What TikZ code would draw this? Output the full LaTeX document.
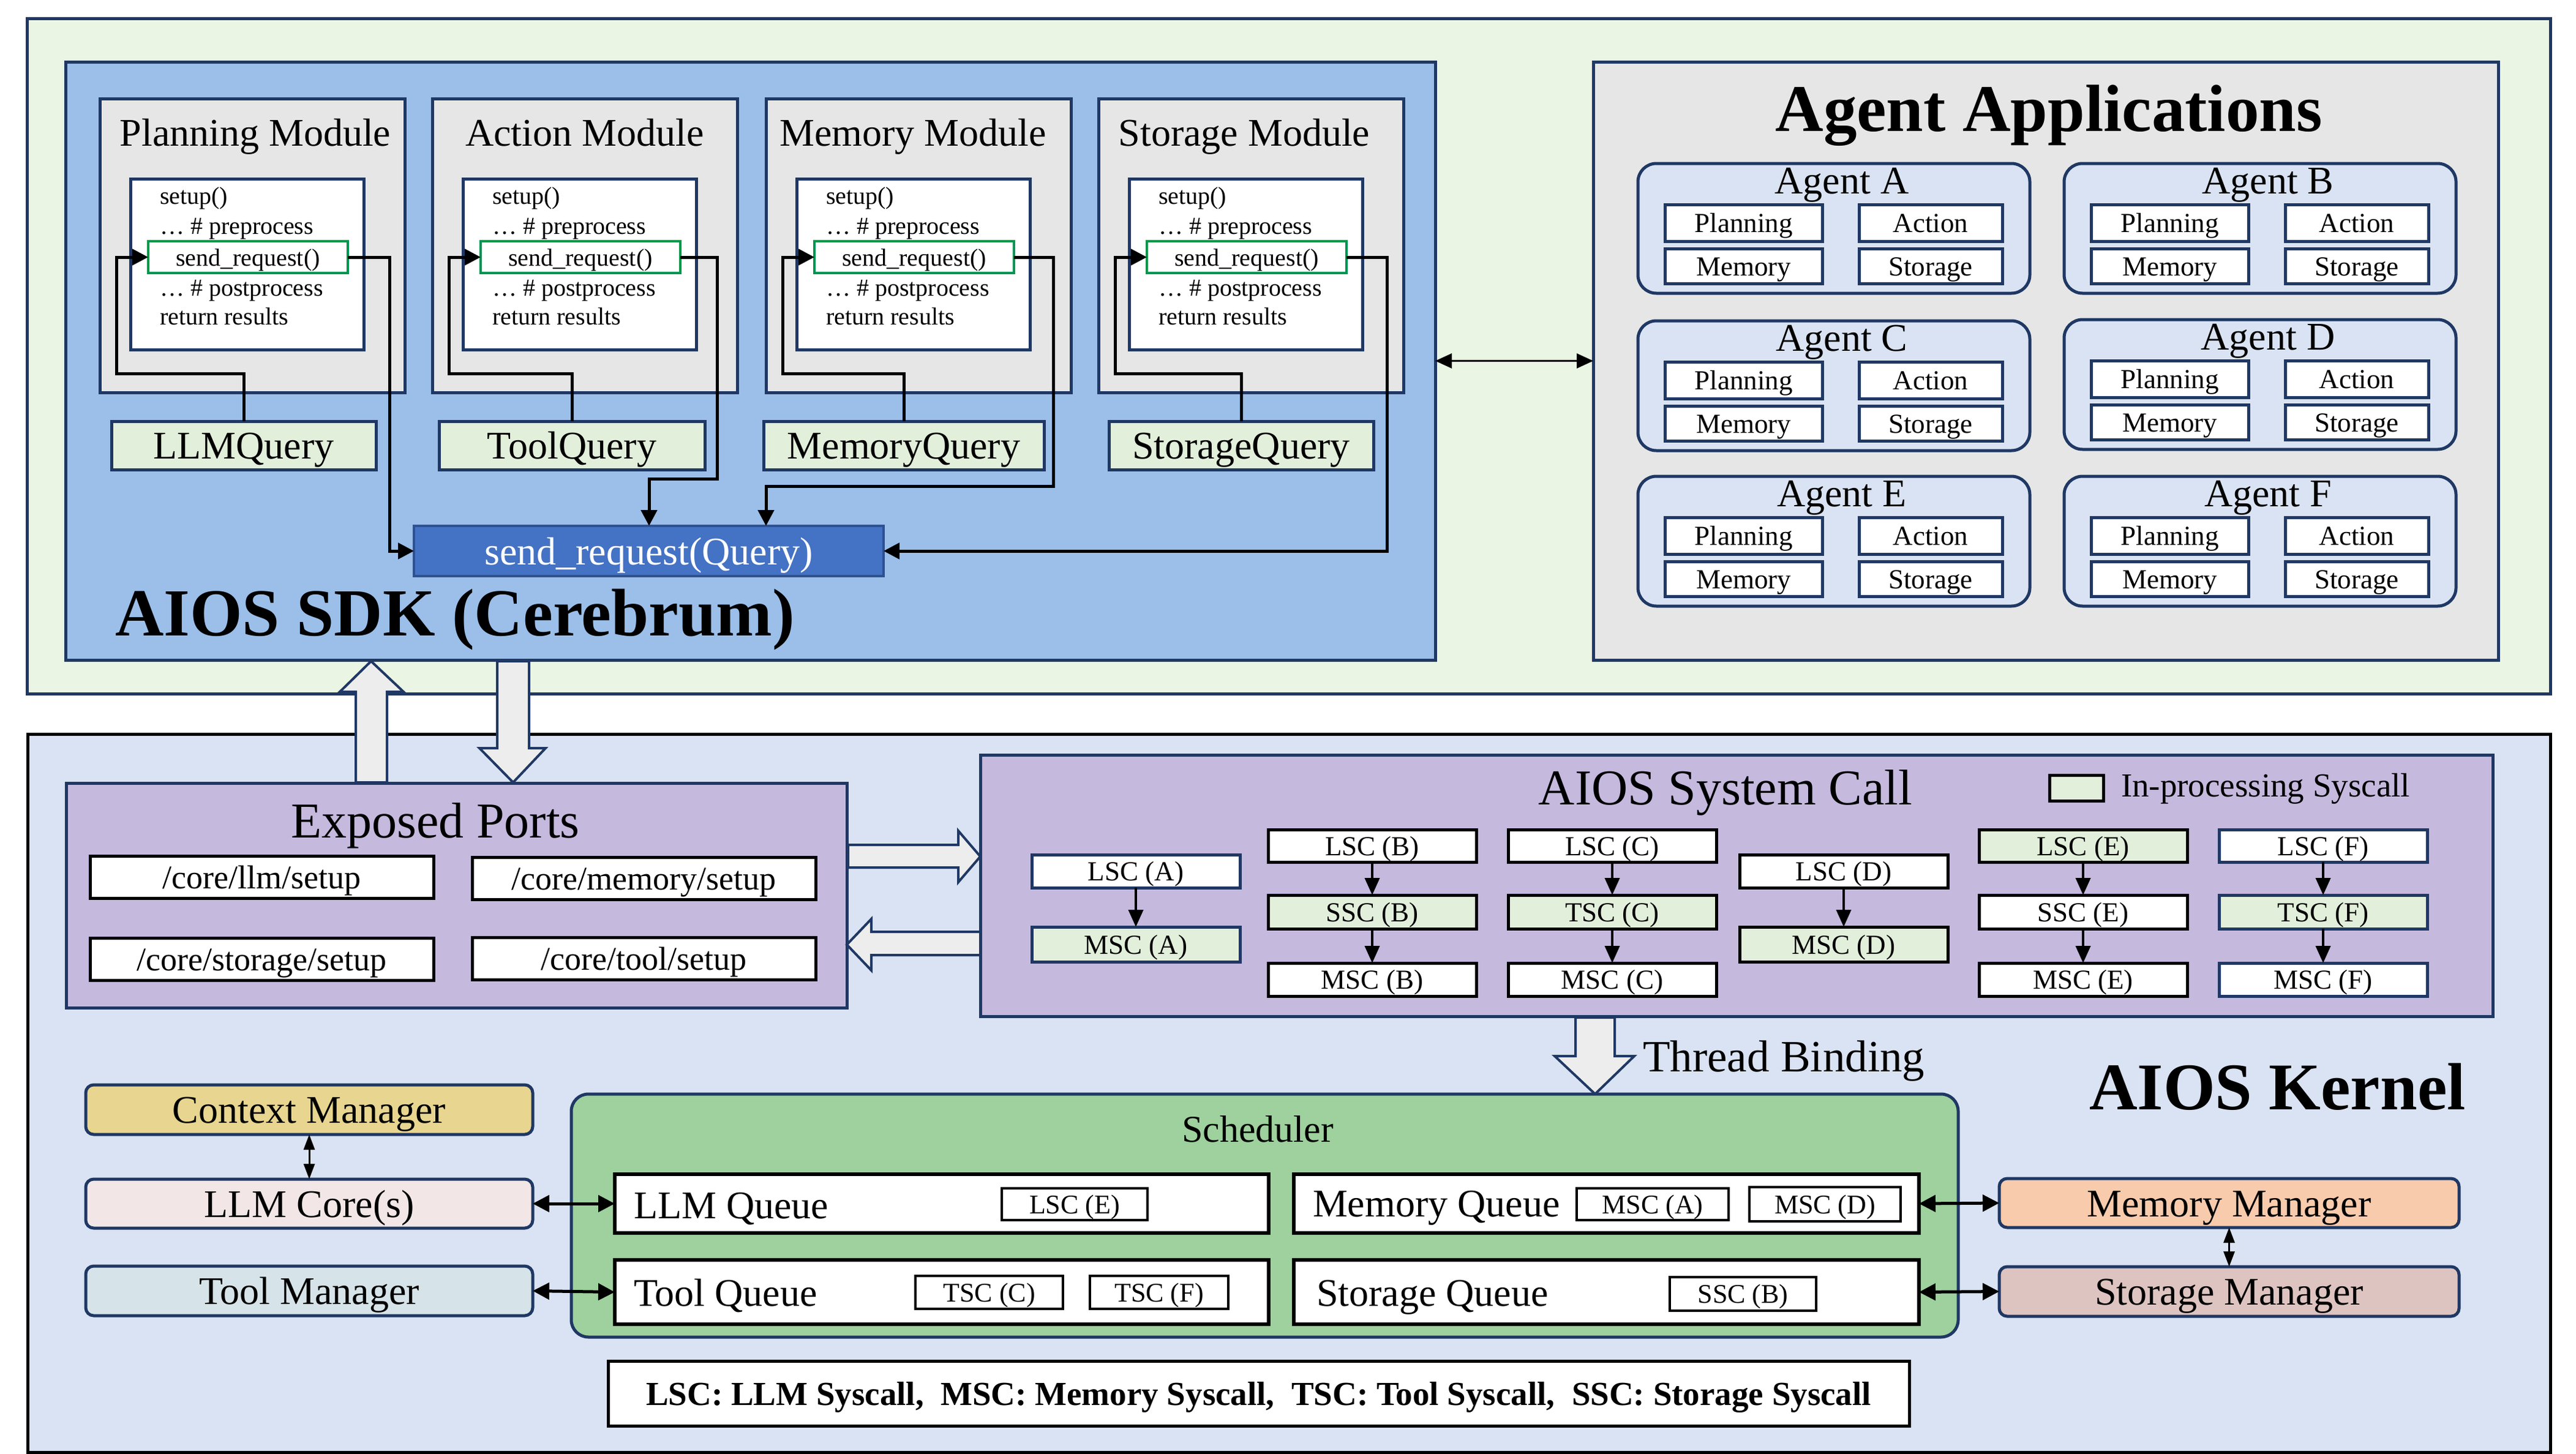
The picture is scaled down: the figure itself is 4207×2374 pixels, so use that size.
\documentclass[tikz,border=0pt]{standalone}
\usepackage{fontspec}
\setmainfont{Liberation Serif}
\usetikzlibrary{arrows.meta,calc}
\newcommand\fs[1]{\fontsize{#1}{#1}\selectfont}
\definecolor{navy}{RGB}{31,56,100}
\definecolor{topg}{RGB}{234,245,228}
\definecolor{kern}{RGB}{218,227,243}
\definecolor{sdkb}{RGB}{155,191,233}
\definecolor{modg}{RGB}{230,230,230}
\definecolor{qgreen}{RGB}{226,239,218}
\definecolor{codeg}{RGB}{0,150,80}
\definecolor{sqblue}{RGB}{68,114,196}
\definecolor{sqedge}{RGB}{47,82,143}
\definecolor{lav}{RGB}{197,185,222}
\definecolor{agentb}{RGB}{218,227,243}
\definecolor{arrg}{RGB}{237,237,237}
\definecolor{schedg}{RGB}{158,209,157}
\definecolor{ctxc}{RGB}{232,213,144}
\definecolor{corec}{RGB}{242,230,230}
\definecolor{toolc}{RGB}{214,227,232}
\definecolor{memc}{RGB}{248,203,173}
\definecolor{stoc}{RGB}{222,196,192}
% box from corners: name, x1, y1, x2, y2, style, text
\newcommand\bx[7]{\node[#6, minimum width={(#4)-(#2)}, minimum height={(#5)-(#3)}] (#1) at ({((#2)+(#4))/2},{((#3)+(#5))/2}) {#7};}
\newcommand\module[7]{%
  \bx{#1}{#2}{161}{#2+498}{641}{modbox}{}
  \node[fsz=64, anchor=base] (#1t) at ({#2+249+#7},238) {#3};
  \bx{#1c}{#2+50}{292}{#2+431}{571}{codebox}{}
  \node[fsz=40, anchor=base west] (#1la) at ({#2+98},333) {setup()};
  \node[fsz=40, anchor=base west] (#1lb) at ({#2+98},382) {… \# preprocess};
  \bx{#1s}{#2+79}{394}{#2+405}{446}{sendbox}{send\_request()}
  \node[fsz=40, anchor=base west] (#1lc) at ({#2+98},483) {… \# postprocess};
  \node[fsz=40, anchor=base west] (#1ld) at ({#2+98},530) {return results};
  \bx{#1q}{#5}{688}{#6}{767}{qbox}{#4}
  \draw[conn] (#1q.north) -- ++(0,-78) -| ($(#1s.west)+(-52,0)$) -- (#1s.west);
}
\newcommand\agent[4]{%
  \bx{#1}{#2}{#3}{#2+640}{#3+212}{agbox}{}
  \node[fsz=64, anchor=base] (#1t) at ({#2+333},{#3+49}) {Agent #4};
  \bx{#1p}{#2+44}{#3+67}{#2+301}{#3+127}{abox}{Planning}
  \bx{#1a}{#2+361}{#3+67}{#2+595}{#3+127}{abox}{Action}
  \bx{#1m}{#2+44}{#3+139}{#2+301}{#3+196}{abox}{Memory}
  \bx{#1s}{#2+361}{#3+139}{#2+595}{#3+196}{abox}{Storage}
}
\begin{document}
\begin{tikzpicture}[x=1pt, y=-1pt,
  every node/.style={inner sep=0pt, outer sep=0pt},
  fsz/.style={font={\fs{#1}}, text height={0.7*#1}, text depth=0pt},
  nv/.style={draw=navy, line width=5pt},
  modbox/.style={nv, fill=modg},
  codebox/.style={nv, fill=white},
  sendbox/.style={draw=codeg, line width=4pt, fill=white, fsz=40},
  qbox/.style={nv, fill=qgreen, fsz=64},
  conn/.style={line width=5pt, -{Triangle[length=26pt,width=26pt]}},
  agbox/.style={nv, fill=agentb, rounded corners=30pt},
  abox/.style={nv, fill=white, fsz=45},
  port/.style={draw=black, line width=5pt, fill=white, fsz=54},
  sc/.style={draw=black, line width=5pt, fill=white, fsz=45},
  scn/.style={nv, fill=white, fsz=45},
  sca/.style={line width=4pt, -{Triangle[length=28pt,width=24pt]}},
  dbl/.style={line width=5pt, {Triangle[length=27pt,width=27pt]}-{Triangle[length=27pt,width=27pt]}},
  dblv/.style={line width=3pt, {Triangle[length=25pt,width=18pt]}-{Triangle[length=25pt,width=18pt]}},
  mgr/.style={nv, rounded corners=13pt, fsz=64},
  queue/.style={draw=black, line width=6pt, fill=white},
  small/.style={draw=black, line width=4pt, fill=white, fsz=44},
  qlabel/.style={fsz=64, anchor=base west},
  blk/.style={draw=navy, line width=4pt, fill=arrg, line join=miter}]
\useasboundingbox (0,0) rectangle (4207,2374);
\fill[white] (0,0) rectangle (4207,2374);
% ===== regions =====
\bx{top}{44}{31}{4165}{1133}{nv, fill=topg}{}
\bx{kernel}{45}{1199}{4165}{2372}{draw=black, line width=5pt, fill=kern}{}
\bx{sdk}{107}{101}{2344}{1078}{nv, fill=sdkb}{}
\bx{apps}{2602}{101}{4080}{1078}{nv, fill=modg}{}
% ===== SDK =====
\bx{sendq}{676}{859}{1443}{941}{draw=sqedge, line width=4pt, fill=sqblue, text=white, fsz=64}{send\_request(Query)}
\module{pm}{163}{Planning Module}{LLMQuery}{182}{614}{5}
\module{am}{706}{Action Module}{ToolQuery}{717}{1151}{0}
\module{mm}{1251}{Memory Module}{MemoryQuery}{1247}{1705}{-9}
\module{sm}{1794}{Storage Module}{StorageQuery}{1811}{2243}{-11}
\draw[conn] (pms.east) -- ++(68,0) |- (sendq.west);
\draw[conn] (ams.east) -- ++(60,0) -- ++(0,362) -| ($(sendq.north west)+(384,0)$);
\draw[conn] (mms.east) -- ++(64,0) -- ++(0,374) -| ($(sendq.north west)+(575,0)$);
\draw[conn] (sms.east) -- ++(66,0) |- (sendq.east);
\node[font={\fs{110}\bfseries}, anchor=base west] (sdkt) at (188,1038) {AIOS SDK (Cerebrum)};
% ===== Agent applications =====
\node[font={\fs{109}\bfseries}, anchor=base] (aat) at (3346,214) {Agent Applications};
\agent{agA}{2675}{267}{A}
\agent{agB}{3371}{267}{B}
\agent{agC}{2675}{524}{C}
\agent{agD}{3371}{522}{D}
\agent{agE}{2675}{778}{E}
\agent{agF}{3371}{778}{F}
\draw[line width=3pt, {Triangle[length=27pt,width=24pt]}-{Triangle[length=27pt,width=24pt]}] (sdk.east) -- (apps.west);
% ===== Exposed ports =====
\bx{ports}{108}{1279}{1383}{1646}{nv, fill=lav}{}
\node[fsz=82, anchor=base] (ept) at (711,1368) {Exposed Ports};
\bx{pllm}{147}{1398}{708}{1467}{port}{/core/llm/setup}
\bx{pmem}{771}{1400}{1332}{1469}{port}{/core/memory/setup}
\bx{psto}{147}{1532}{708}{1601}{port}{/core/storage/setup}
\bx{ptool}{771}{1531}{1332}{1600}{port}{/core/tool/setup}
% block arrows SDK <-> ports
\draw[blk] (581,1278) -- (581,1130) -- (555,1130) -- (606,1080) -- (659,1130) -- (632,1130) -- (632,1278) -- cycle;
\draw[blk] (812,1080) -- (812,1222) -- (783,1222) -- (838,1278) -- (891,1222) -- (864,1222) -- (864,1080) -- cycle;
% ===== System call =====
\bx{sys}{1601}{1233}{4071}{1660}{nv, fill=lav}{}
\node[fsz=82, anchor=base] (sct) at (2818,1314) {AIOS System Call};
\bx{legbox}{3347}{1266}{3435}{1308}{draw=black, line width=5pt, fill=qgreen}{}
\node[fsz=55, anchor=base west] (legt) at (3464,1301) {In-processing Syscall};
\draw[blk] (1385,1380) -- (1565,1380) -- (1565,1357) -- (1601,1399) -- (1565,1441) -- (1565,1417) -- (1385,1417) -- cycle;
\draw[blk] (1601,1522) -- (1423,1522) -- (1423,1501) -- (1383,1543) -- (1423,1585) -- (1423,1560) -- (1601,1560) -- cycle;
% column A
\bx{sA1}{1685}{1396}{2025}{1450}{scn}{LSC (A)}
\bx{sA2}{1685}{1514}{2025}{1571}{scn, fill=qgreen}{MSC (A)}
% column B
\bx{sB1}{2071}{1355}{2411}{1408}{sc}{LSC (B)}
\bx{sB2}{2071}{1462}{2411}{1517}{sc, fill=qgreen}{SSC (B)}
\bx{sB3}{2071}{1573}{2411}{1627}{sc}{MSC (B)}
% column C
\bx{sC1}{2463}{1355}{2803}{1408}{sc}{LSC (C)}
\bx{sC2}{2463}{1462}{2803}{1517}{sc, fill=qgreen}{TSC (C)}
\bx{sC3}{2463}{1573}{2803}{1627}{sc}{MSC (C)}
% column D
\bx{sD1}{2841}{1396}{3181}{1450}{sc}{LSC (D)}
\bx{sD2}{2841}{1514}{3181}{1571}{sc, fill=qgreen}{MSC (D)}
% column E
\bx{sE1}{3232}{1355}{3572}{1408}{sc, fill=qgreen}{LSC (E)}
\bx{sE2}{3232}{1462}{3572}{1517}{sc}{SSC (E)}
\bx{sE3}{3232}{1573}{3572}{1627}{sc}{MSC (E)}
% column F
\bx{sF1}{3624}{1355}{3964}{1408}{scn}{LSC (F)}
\bx{sF2}{3624}{1462}{3964}{1517}{scn, fill=qgreen}{TSC (F)}
\bx{sF3}{3624}{1573}{3964}{1627}{scn}{MSC (F)}
\draw[sca] (sA1.south) -- (sA2.north);
\draw[sca] (sB1.south) -- (sB2.north);
\draw[sca] (sB2.south) -- (sB3.north);
\draw[sca] (sC1.south) -- (sC2.north);
\draw[sca] (sC2.south) -- (sC3.north);
\draw[sca] (sD1.south) -- (sD2.north);
\draw[sca] (sE1.south) -- (sE2.north);
\draw[sca] (sE2.south) -- (sE3.north);
\draw[sca] (sF1.south) -- (sF2.north);
\draw[sca] (sF2.south) -- (sF3.north);
% thread binding
\draw[blk] (2573,1662) -- (2573,1725) -- (2539,1725) -- (2605,1787) -- (2669,1725) -- (2637,1725) -- (2637,1662) -- cycle;
\node[fsz=73, anchor=base west] (tb) at (2683,1750) {Thread Binding};
\node[font={\fs{109}\bfseries}, anchor=base west] (kt) at (3412,1812) {AIOS Kernel};
% ===== Scheduler =====
\bx{sched}{933}{1787}{3198}{2184}{nv, fill=schedg, rounded corners=28pt}{}
\node[fsz=62, anchor=base] (scht) at (2054,1865) {Scheduler};
\bx{llmq}{1004}{1918}{2072}{2014}{queue}{}
\bx{toolq}{1004}{2058}{2072}{2163}{queue}{}
\bx{memq}{2113}{1918}{3134}{2014}{queue}{}
\bx{stoq}{2113}{2058}{3134}{2163}{queue}{}
\node[qlabel] (llmql) at (1035,1990) {LLM Queue};
\node[qlabel] (toolql) at (1035,2133) {Tool Queue};
\node[qlabel] (memql) at (2144,1987) {Memory Queue};
\node[qlabel] (stoql) at (2150,2133) {Storage Queue};
\bx{qlscE}{1636}{1941}{1874}{1993}{small}{LSC (E)}
\bx{qtscC}{1495}{2084}{1736}{2138}{small}{TSC (C)}
\bx{qtscF}{1780}{2084}{2006}{2138}{small}{TSC (F)}
\bx{qmscA}{2575}{1941}{2823}{1993}{small}{MSC (A)}
\bx{qmscD}{2857}{1939}{3104}{1995}{small}{MSC (D)}
\bx{qsscB}{2727}{2086}{2966}{2141}{small}{SSC (B)}
% ===== managers =====
\bx{ctx}{140}{1772}{870}{1853}{mgr, fill=ctxc}{Context Manager}
\bx{core}{140}{1926}{870}{2006}{mgr, fill=corec}{LLM Core(s)}
\bx{toolm}{140}{2068}{870}{2149}{mgr, fill=toolc}{Tool Manager}
\bx{memm}{3265}{1925}{4016}{2005}{mgr, fill=memc}{Memory Manager}
\bx{stom}{3265}{2069}{4016}{2150}{mgr, fill=stoc}{Storage Manager}
\draw[dblv] (ctx.south) -- (core.north);
\draw[dblv] (memm.south) -- (stom.north);
\draw[dbl] (core.east) -- (llmq.west);
\draw[dbl] (toolm.east) -- (toolq.west);
\draw[dbl] (memq.east) -- (memm.west);
\draw[dbl] (stoq.east) -- (stom.west);
% ===== abbreviations =====
\bx{abbr}{993}{2223}{3118}{2329}{draw=black, line width=5pt, fill=white, fsz=55}{\bfseries LSC: LLM Syscall,\ \ MSC: Memory Syscall,\ \ TSC: Tool Syscall,\ \ SSC: Storage Syscall}
\end{tikzpicture}
\end{document}
